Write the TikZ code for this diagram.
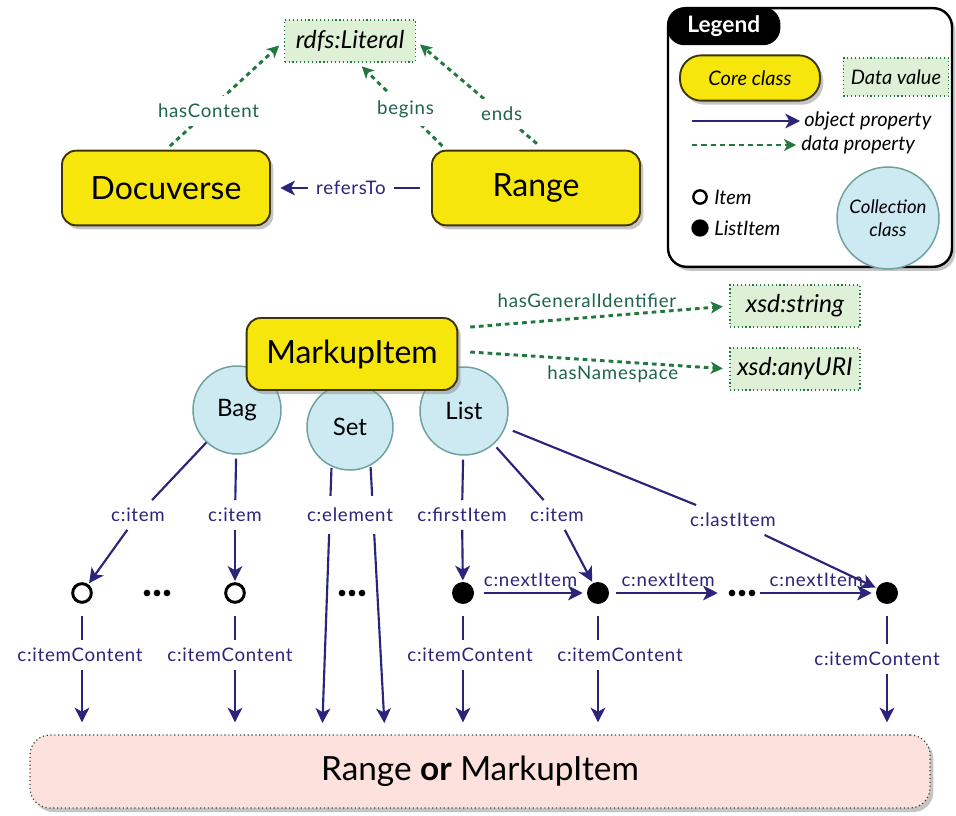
\documentclass[tikz,border=0pt]{standalone}
\usepackage{fontspec}
\setmainfont{Lato}
\newfontfamily\lblfont[LetterSpace=4]{Lato}
\usetikzlibrary{arrows.meta,shadows,calc}
\definecolor{coreY}{RGB}{247,230,12}
\definecolor{coreB}{RGB}{60,52,10}
\definecolor{objC}{RGB}{42,36,122}
\definecolor{dataC}{RGB}{34,120,62}
\definecolor{dataT}{RGB}{30,100,75}
\definecolor{dvFill}{RGB}{222,240,214}
\definecolor{collF}{RGB}{205,234,242}
\definecolor{collB}{RGB}{110,160,160}
\definecolor{rangeF}{RGB}{252,225,220}
\tikzset{
 core/.style={draw=coreB, line width=1.4pt, fill=coreY, rounded corners=10.5pt, minimum width=156pt, minimum height=56pt, inner sep=0pt, font=\fontsize{24}{28}\selectfont, drop shadow={shadow xshift=2.5pt, shadow yshift=-3pt, opacity=0.45}},
 dval/.style={draw=dataC, dotted, line width=0.9pt, fill=dvFill, minimum width=98pt, minimum height=31.5pt, inner sep=0pt, font=\fontsize{18.5}{21}\selectfont\itshape},
 coll/.style={circle, draw=collB, line width=1.1pt, fill=collF, minimum size=66pt, inner sep=0pt, font=\fontsize{18}{20}\selectfont},
 itemo/.style={circle, draw=black, line width=2.2pt, fill=white, minimum size=14pt, inner sep=0pt},
 itemf/.style={circle, fill=black, minimum size=16.5pt, inner sep=0pt},
 lbl/.style={font=\lblfont\fontsize{14}{16}\selectfont, text=objC, inner sep=2pt, outer sep=4pt},
 dlbl/.style={font=\lblfont\fontsize{14}{16}\selectfont, text=dataT, inner sep=2pt},
 objline/.style={draw=objC, line width=1.6pt},
 objarr/.style={objline, -{Stealth[length=11pt,width=11pt,inset=3pt]}},
 dataarr/.style={draw=dataC, line width=2.2pt, dash pattern=on 3.5pt off 3pt, -{Stealth[length=9pt,width=9pt,inset=2.5pt]}},
 dotsn/.style={minimum width=22pt, minimum height=6pt, inner sep=0pt, path picture={\foreach \dx in {-7.5pt,0pt,7.5pt}{\fill ([xshift=\dx]path picture bounding box.center) circle[radius=2.5pt];}}},
 legtxt/.style={font=\fontsize{15}{17}\selectfont\itshape, anchor=west, inner sep=0pt},
}
\begin{document}
\begin{tikzpicture}[x=0.75pt,y=-0.75pt]
\fill[white] (0,0) rectangle (956,816);
\useasboundingbox (0,0) rectangle (956,816);

% ---------- top part ----------
\node[core] (docu) at (166,188) {Docuverse};
\node[core] (range) at (536,188) {Range};
\node[dval] (lit) at (350,41) {rdfs:Literal};

\draw[dataarr, shorten <=4pt, shorten >=5pt] (docu.north) -- node[dlbl, fill=white, inner ysep=6pt, pos=0.36]{hasContent} (lit.west);
\draw[dataarr, shorten <=4pt, shorten >=4pt] ($(range.north west)+(15,0)$) -- node[dlbl, fill=white, inner ysep=6pt, pos=0.46]{begins} ($(lit.south)+(8,0)$);
\draw[dataarr, shorten <=7pt, shorten >=4pt] ($(range.north)+(8,0)$) -- node[dlbl, fill=white, inner ysep=6pt, pos=0.33]{ends} (lit.east);
\draw[objarr, shorten <=8pt, shorten >=7pt] (range.west) -- node[lbl, fill=white, outer sep=0pt, inner xsep=6pt]{refersTo} (docu.east);

% ---------- legend ----------
\node[draw=black, line width=1.8pt, fill=white, rounded corners=14pt, minimum width=213pt, minimum height=194pt, drop shadow={shadow xshift=2.5pt, shadow yshift=-3pt, opacity=0.45}] (legend) at (810,137.5) {};
\node[fill=black, rounded corners=13pt, minimum width=85pt, minimum height=28.5pt, anchor=north west, text=white, font=\fontsize{17}{20}\selectfont\bfseries] (legtab) at (legend.north west) {Legend};
\node[core, rounded corners=16pt, minimum width=105pt, minimum height=34pt, font=\fontsize{15}{17}\selectfont\itshape] (lcore) at (750,78) {Core class};
\node[dval, minimum width=79pt, minimum height=28.5pt, font=\fontsize{15}{17}\selectfont\itshape] (ldv) at (896,77) {Data value};
\coordinate (lo1) at (692,121);
\coordinate (lo2) at (800,121);
\draw[objarr] (lo1) -- (lo2);
\node[legtxt] (lotxt) at (804,121) {object property};
\coordinate (ld1) at (692,145);
\coordinate (ld2) at (796,145);
\draw[draw=dataC, line width=1.5pt, dash pattern=on 4pt off 3pt, -{Stealth[length=9pt,width=9pt,inset=2.5pt]}] (ld1) -- (ld2);
\node[legtxt] (ldtxt) at (801,145) {data property};
\node[itemo, minimum size=10pt, line width=1.8pt] (litem) at (700,197) {};
\node[legtxt] (litxt) at (714,197) {Item};
\node[itemf, minimum size=13pt] (llitem) at (700,228) {};
\node[legtxt] (llitxt) at (714,228) {ListItem};
\node[coll, minimum size=76.5pt, font=\fontsize{14}{17}\selectfont\itshape, align=center] (lcoll) at (888,218) {Collection\\class};

% ---------- MarkupItem ----------
\node[coll] (bag) at (237,410) {Bag};
\node[coll, minimum size=64.5pt] (set) at (350,427) {Set};
\node[coll] (list) at (464,411) {List};
\node[core, minimum width=158pt, minimum height=54pt] (markup) at (352,354) {MarkupItem};
\node[dval, minimum width=97.5pt] (xstr) at (795,306) {xsd:string};
\node[dval, minimum width=97.5pt] (xuri) at (795,369) {xsd:anyURI};
\draw[dataarr, shorten >=5pt] ($(markup.north east)+(12,10)$) -- node[dlbl, above=4pt, pos=0.45]{hasGeneralIdentifier} (xstr.west);
\draw[dataarr, shorten >=5pt] ($(markup.east)+(12,-2)$) -- node[dlbl, below=0pt, pos=0.55]{hasNamespace} (xuri.west);

% ---------- bottom box ----------
\node[draw=black!75, dotted, line width=0.9pt, fill=rangeF, rounded corners=15pt, minimum width=675pt, minimum height=54.75pt, font=\fontsize{25}{29}\selectfont, drop shadow={shadow xshift=2.5pt, shadow yshift=-3pt, opacity=0.45}] (bottom) at (480,771.5) {Range \textbf{or} MarkupItem};

% ---------- items ----------
\node[itemo] (i1) at (82,593) {};
\node[itemo] (i2) at (235,593) {};
\node[itemf] (l1) at (463,593) {};
\node[itemf] (l2) at (598,593) {};
\node[itemf] (l3) at (887,593) {};
\node[dotsn] (d1) at (157,593) {};
\node[dotsn] (d2) at (352,593) {};
\node[dotsn] (d3) at (742,593) {};

\node[lbl] (ci1) at (138,515) {c:item};
\node[lbl] (ci2) at (235,515) {c:item};
\node[lbl] (cfi) at (462,515) {c:firstItem};
\node[lbl] (ci3) at (557,515) {c:item};
\node[lbl] (cli) at (733,520) {c:lastItem};

\draw[objline] (bag) -- (ci1);
\draw[objarr, shorten >=1pt] (ci1) -- (i1);
\draw[objline, shorten <=3pt] (bag) -- (ci2);
\draw[objarr, shorten >=1pt] (ci2) -- (i2);
\draw[objline, shorten <=3pt] (list) -- (cfi);
\draw[objarr, shorten >=1pt] (cfi) -- (l1);
\draw[objline, shorten <=3pt] (list) -- (ci3);
\draw[objarr, shorten >=1pt] (ci3) -- (l2);
\draw[objline, shorten <=6pt] (list) -- (cli);
\draw[objarr, shorten >=1pt] (cli) -- (l3);

% c:element
\coordinate (e1) at (322,735);
\coordinate (e2) at (385,735);
\draw[objarr, shorten <=1pt, shorten >=9pt] (set.-115) -- (e1);
\draw[objarr, shorten <=1pt, shorten >=9pt] (set.-62) -- (e2);
\node[lbl, fill=white, outer sep=0pt, inner xsep=1pt, inner ysep=9pt] (cel) at (350,515) {c:element};

% c:nextItem
\draw[objarr, shorten <=7pt, shorten >=3pt] (l1) -- node[lbl, above=3pt, outer sep=0pt]{c:nextItem} (l2);
\draw[objarr, shorten <=5pt, shorten >=7pt] (l2) -- node[lbl, above=3pt, outer sep=0pt]{c:nextItem} (d3);
\draw[objarr, shorten <=2pt, shorten >=3pt] (d3) -- node[lbl, above=3pt, outer sep=0pt]{c:nextItem} (l3);

% c:itemContent
\node[lbl] (ic1) at (80,655) {c:itemContent};
\node[lbl] (ic2) at (230,655) {c:itemContent};
\node[lbl] (ic3) at (470,655) {c:itemContent};
\node[lbl] (ic4) at (620,655) {c:itemContent};
\node[lbl] (ic5) at (877,659) {c:itemContent};
\foreach \c/\l in {i1/ic1, i2/ic2, l1/ic3, l2/ic4, l3/ic5}{
  \draw[objline, shorten <=9pt] (\c) -- (\c |- \l.north);
  \draw[objarr, shorten >=9pt] (\c |- \l.south) -- (\c |- bottom.north);
}
\end{tikzpicture}
\end{document}
